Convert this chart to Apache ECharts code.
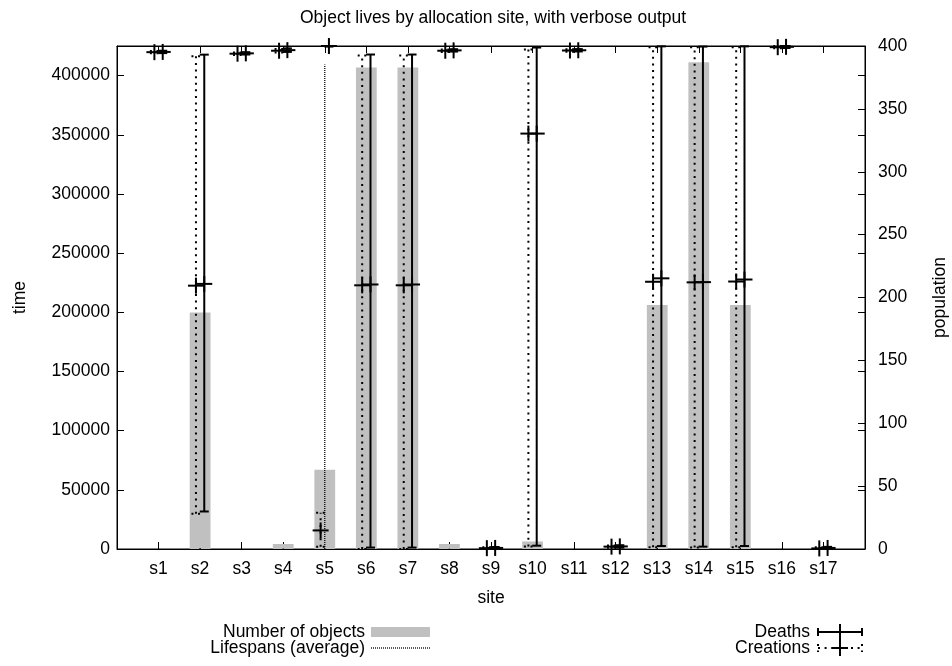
<!DOCTYPE html>
<html><head><meta charset="utf-8">
<script src="https://cdn.jsdelivr.net/npm/echarts@6/dist/echarts.min.js"></script>
<style>html,body{margin:0;padding:0;background:#fff}#c{width:952px;height:666px}</style>
</head><body><div id="c"></div>
<script>
// ---- data ----
const sites = ['s1','s2','s3','s4','s5','s6','s7','s8','s9','s10','s11','s12','s13','s14','s15','s16','s17'];
const population = [0, 188, 0, 4, 63, 383, 383, 4, 0, 6, 0, 0, 194, 387, 194, 0, 0];
const lifespanAvg = [200, 1500, 300, 500, 409300, 700, 700, 300, 200, 0, 200, 200, 2900, 200, 1700, 300, 400];
const creationMean = [419800, 222500, 418500, 421000, 15700, 222800, 222800, 421000, 700, 351000, 421200, 2000, 225800, 225300, 226000, 424000, 500];
const creationMin  = [418800, 29800, 417500, 419500, 1900, 0, 0, 420000, 0, 2200, 420200, 1000, 1500, 1200, 1500, 423000, 0];
const creationMax  = [420800, 416300, 419500, 422500, 30600, 417000, 417000, 422000, 1500, 422000, 422200, 3000, 424000, 424000, 424000, 425000, 1500];
const deathMean = [420000, 224000, 418800, 421500, 425000, 223500, 223500, 421300, 900, 351000, 421400, 2200, 228700, 225500, 227700, 424300, 900];
const deathMin  = [419000, 31700, 417800, 420000, 424500, 1200, 1200, 420300, 200, 2800, 420400, 1200, 2500, 2000, 2500, 423300, 0];
const deathMax  = [421000, 417700, 419800, 423000, 425000, 417800, 417800, 422300, 1700, 423700, 422400, 3200, 424700, 424500, 424700, 425000, 1800];
const timeMax = 425000, timeStep = 50000;
const popMax = 400, popStep = 50;

// ---- chart ----
const FONT = '"Liberation Sans", Arial, Helvetica, sans-serif';
const FS = 17.5;
const chart = echarts.init(document.getElementById('c'), null, {renderer: 'canvas'});

function errItem(offset, dotted) {
  return function (params, api) {
    const x = api.value(0) + offset;
    const m = api.coord([x, api.value(1)]);
    const lo = api.coord([x, api.value(2)]);
    const hi = api.coord([x, api.value(3)]);
    const line = {stroke: '#000', lineWidth: 2, lineDash: dotted ? [2, 4.6] : null};
    const solid = {stroke: '#000', lineWidth: 2};
    const cw = 4.5, cs = 8;
    return {type: 'group', children: [
      {type: 'line', shape: {x1: lo[0], y1: lo[1], x2: hi[0], y2: hi[1]}, style: line},
      {type: 'line', shape: {x1: lo[0] - cw, y1: lo[1], x2: lo[0] + cw, y2: lo[1]}, style: line},
      {type: 'line', shape: {x1: hi[0] - cw, y1: hi[1], x2: hi[0] + cw, y2: hi[1]}, style: line},
      {type: 'line', shape: {x1: m[0] - cs, y1: m[1], x2: m[0] + cs, y2: m[1]}, style: solid},
      {type: 'line', shape: {x1: m[0], y1: m[1] - cs, x2: m[0], y2: m[1] + cs}, style: solid}
    ]};
  };
}

function axLine() { return {show: true, onZero: false, lineStyle: {color: '#000', width: 1}}; }
function ticks() { return {show: true, inside: true, length: 7, lineStyle: {color: '#000', width: 1}}; }
const labelStyle = {color: '#000', fontSize: FS, fontFamily: FONT};
const nameStyle = {color: '#000', fontSize: FS, fontFamily: FONT};

const option = {
  animation: false,
  backgroundColor: '#fff',
  title: {
    text: 'Object lives by allocation site, with verbose output',
    left: 488, top: 4, textAlign: 'center',
    textStyle: {color: '#000', fontSize: FS, fontWeight: 'normal', fontFamily: FONT}
  },
  grid: {left: 117, right: 87, top: 46, bottom: 117, containLabel: false, outerBoundsMode: 'none',
         show: true, borderColor: '#000', borderWidth: 1, backgroundColor: 'transparent'},
  xAxis: [
    {type: 'value', min: 0, max: sites.length + 1, interval: 1, position: 'bottom',
     axisLine: axLine(), axisTick: ticks(), splitLine: {show: false},
     axisLabel: Object.assign({margin: 11, formatter: v => (v >= 1 && v <= sites.length) ? sites[v - 1] : ''}, labelStyle),
     name: 'site', nameLocation: 'middle', nameGap: 40, nameTextStyle: nameStyle},
    {type: 'value', min: 0, max: sites.length + 1, interval: 1, position: 'top',
     axisLine: axLine(), axisTick: ticks(), splitLine: {show: false},
     axisLabel: {show: false}}
  ],
  yAxis: [
    {type: 'value', min: 0, max: timeMax, interval: timeStep, position: 'left',
     axisLine: axLine(), axisTick: ticks(), splitLine: {show: false},
     axisLabel: Object.assign({margin: 7, showMaxLabel: false, formatter: v => String(v)}, labelStyle),
     name: 'time', nameLocation: 'middle', nameGap: 88, nameRotate: 90, nameTextStyle: nameStyle},
    {type: 'value', min: 0, max: popMax, interval: popStep, position: 'right',
     axisLine: axLine(), axisTick: ticks(), splitLine: {show: false},
     axisLabel: Object.assign({margin: 13, formatter: v => String(v)}, labelStyle),
     name: 'population', nameLocation: 'middle', nameGap: 66, nameRotate: 90, nameTextStyle: nameStyle},
    {type: 'value', min: 0, max: timeMax, interval: timeStep, position: 'right',
     axisLine: {show: false, onZero: false}, axisTick: ticks(), splitLine: {show: false}, axisLabel: {show: false}}
  ],
  series: [
    {type: 'custom', name: 'Number of objects', xAxisIndex: 0, yAxisIndex: 1, z: 1,
     data: population.map((v, i) => [i + 1, v]),
     renderItem: function (params, api) {
       const x = api.value(0), v = api.value(1);
       const p0 = api.coord([x - 0.25, 0]);
       const p1 = api.coord([x + 0.25, v]);
       return {type: 'rect', shape: {x: p0[0], y: p1[1], width: p1[0] - p0[0], height: p0[1] - p1[1]},
               style: {fill: '#c0c0c0'}};
     }},
    {type: 'custom', name: 'Lifespans (average)', xAxisIndex: 0, yAxisIndex: 0, z: 2,
     data: lifespanAvg.map((v, i) => [i + 1, v]),
     renderItem: function (params, api) {
       const x = api.value(0), v = api.value(1);
       const p0 = api.coord([x, 0]);
       const p1 = api.coord([x, v]);
       return {type: 'line', shape: {x1: p0[0], y1: p0[1], x2: p1[0], y2: p1[1]},
               style: {stroke: '#000', lineWidth: 1.3, lineDash: [1, 1]}};
     }},
    {type: 'custom', name: 'Deaths', xAxisIndex: 0, yAxisIndex: 0, z: 3,
     data: deathMean.map((v, i) => [i + 1, v, deathMin[i], deathMax[i]]),
     renderItem: errItem(0.1, false)},
    {type: 'custom', name: 'Creations', xAxisIndex: 0, yAxisIndex: 0, z: 3,
     data: creationMean.map((v, i) => [i + 1, v, creationMin[i], creationMax[i]]),
     renderItem: errItem(-0.1, true)}
  ],
  graphic: [
    {type: 'text', x: 365, y: 632, style: {text: 'Number of objects', font: FS + 'px ' + FONT, fill: '#000', textAlign: 'right', align: 'right', textVerticalAlign: 'middle', verticalAlign: 'middle'}},
    {type: 'rect', shape: {x: 371, y: 627, width: 59, height: 10}, style: {fill: '#c0c0c0'}},
    {type: 'text', x: 365, y: 648, style: {text: 'Lifespans (average)', font: FS + 'px ' + FONT, fill: '#000', textAlign: 'right', align: 'right', textVerticalAlign: 'middle', verticalAlign: 'middle'}},
    {type: 'line', shape: {x1: 371, y1: 648, x2: 430, y2: 648}, style: {stroke: '#000', lineWidth: 1.3, lineDash: [1, 1]}},
    {type: 'text', x: 810, y: 632, style: {text: 'Deaths', font: FS + 'px ' + FONT, fill: '#000', textAlign: 'right', align: 'right', textVerticalAlign: 'middle', verticalAlign: 'middle'}},
    {type: 'group', children: [
      {type: 'line', shape: {x1: 818, y1: 632, x2: 862, y2: 632}, style: {stroke: '#000', lineWidth: 2}},
      {type: 'line', shape: {x1: 818, y1: 628, x2: 818, y2: 636}, style: {stroke: '#000', lineWidth: 2}},
      {type: 'line', shape: {x1: 862, y1: 628, x2: 862, y2: 636}, style: {stroke: '#000', lineWidth: 2}},
      {type: 'line', shape: {x1: 840, y1: 624, x2: 840, y2: 640}, style: {stroke: '#000', lineWidth: 2}}
    ]},
    {type: 'text', x: 810, y: 648, style: {text: 'Creations', font: FS + 'px ' + FONT, fill: '#000', textAlign: 'right', align: 'right', textVerticalAlign: 'middle', verticalAlign: 'middle'}},
    {type: 'group', children: [
      {type: 'line', shape: {x1: 818, y1: 648, x2: 862, y2: 648}, style: {stroke: '#000', lineWidth: 2, lineDash: [2, 4.6]}},
      {type: 'line', shape: {x1: 818, y1: 644, x2: 818, y2: 652}, style: {stroke: '#000', lineWidth: 2, lineDash: [2, 4.6]}},
      {type: 'line', shape: {x1: 862, y1: 644, x2: 862, y2: 652}, style: {stroke: '#000', lineWidth: 2, lineDash: [2, 4.6]}},
      {type: 'line', shape: {x1: 832, y1: 648, x2: 848, y2: 648}, style: {stroke: '#000', lineWidth: 2}},
      {type: 'line', shape: {x1: 840, y1: 640, x2: 840, y2: 656}, style: {stroke: '#000', lineWidth: 2}}
    ]}
  ]
};
chart.setOption(option);
</script>
</body></html>
